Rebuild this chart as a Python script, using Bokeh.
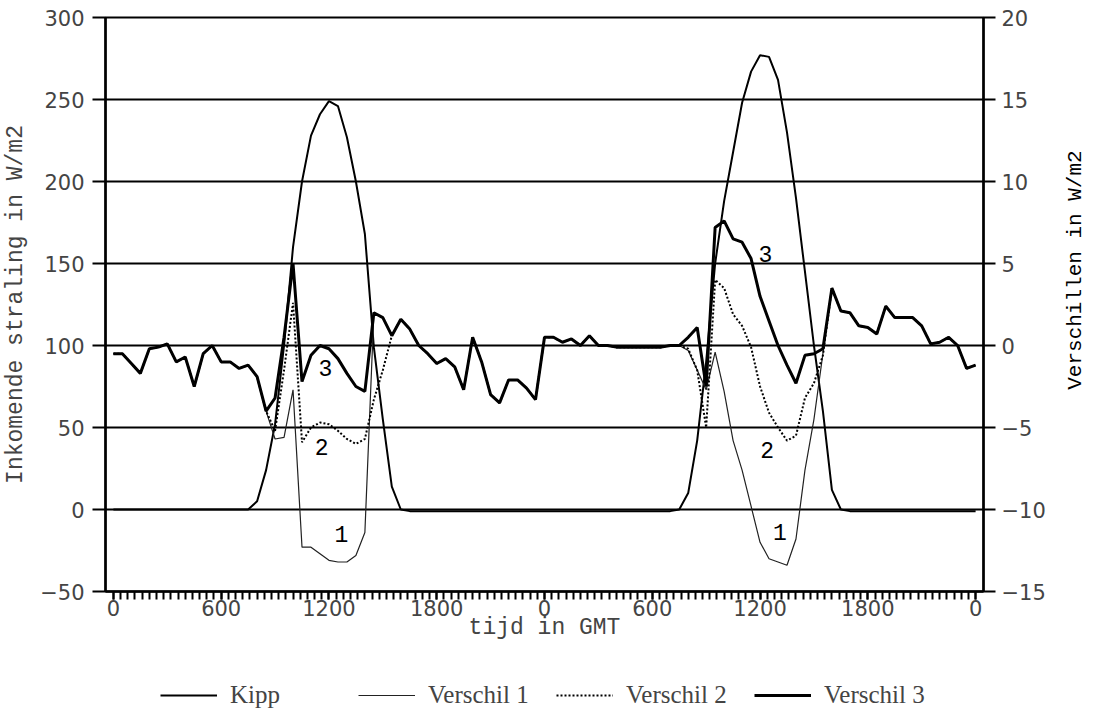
import math
from bokeh.plotting import figure
from bokeh.layouts import column, row
from bokeh.models import (Range1d, LinearAxis, FixedTicker, Legend, LegendItem,
                          Label, ColumnDataSource)
from bokeh.embed import file_html
from bokeh.resources import INLINE

# ---------------- data (half-hourly, hours since start) ----------------
hours = [i * 0.5 for i in range(97)]

kipp = [0, 0, 0, 0, 0, 0, 0, 0, 0, 0, 0, 0, 0, 0, 0, 0,          # 0.0 - 7.5
        5, 24, 52, 100, 160, 200, 228, 241, 249, 246, 227, 200,  # 8.0 - 13.5
        168, 99, 55, 14, 0,                                      # 14.0 - 16.0
        -1, -1, -1, -1, -1, -1, -1, -1, -1, -1, -1, -1, -1, -1,  # 16.5 - 23.0
        -1, -1, -1, -1, -1, -1, -1, -1, -1, -1, -1, -1, -1, -1,  # 23.5 - 30.0
        -1, -1, 0,                                               # 30.5 - 31.5
        10, 42, 90, 150, 188, 218, 248, 267, 277, 276, 262, 230,  # 32.0 - 37.5
        190, 145, 100, 60, 12, 0,                                # 38.0 - 40.5
        -1, -1, -1, -1, -1, -1, -1, -1, -1, -1, -1, -1, -1, -1, -1]  # 41.0 - 48.0

night_1 = [-0.5, -0.5, -1.1, -1.7, -0.2, -0.1, 0.1, -1.0, -0.7, -2.5,
           -0.5, 0.0, -1.0, -1.0, -1.4, -1.2, -1.9, -4.0]          # 0.0 - 8.5
night_2 = [0.6, 1.6, 1.0, 0.0, -0.5, -1.1, -0.8, -1.3, -2.7, 0.5,
           -1.0, -3.0, -3.5, -2.1, -2.1, -2.6, -3.3, 0.5, 0.5, 0.2,
           0.4, 0.0, 0.6, 0.0, 0.0, -0.1, -0.1, -0.1, -0.1, -0.1,
           -0.1, 0.0, 0.0]                                          # 15.5 - 31.5
night_3 = [3.5, 2.1, 2.0, 1.2, 1.1, 0.7, 2.4, 1.7, 1.7, 1.7,
           1.2, 0.1, 0.2, 0.5, 0.0, -1.4, -1.2]                      # 40.0 - 48.0

day1_v1 = [-5.7, -5.6, -2.7, -12.3, -12.3, -12.7, -13.1, -13.2, -13.2, -12.8, -11.4, 2.0, 1.7]
day1_v2 = [-5.2, -1.5, 2.6, -5.9, -5.0, -4.7, -4.8, -5.2, -5.7, -6.0, -5.7, -3.3, -1.5]
day1_v3 = [-3.2, 0.5, 5.0, -2.2, -0.6, 0.0, -0.2, -0.8, -1.7, -2.5, -2.8, 2.0, 1.7]  # 9.0 - 15.0

day2_v1 = [-0.3, -1.5, -2.7, -0.4, -2.8, -5.8, -7.6, -9.8, -12.0, -13.0, -13.2, -13.4, -11.8, -7.6, -4.5, -0.5]
day2_v2 = [-0.2, -1.5, -5.0, 4.0, 3.5, 1.9, 1.2, -0.1, -2.5, -4.1, -5.0, -5.8, -5.5, -3.2, -2.3, -0.6]
day2_v3 = [0.5, 1.1, -2.5, 7.2, 7.6, 6.5, 6.3, 5.3, 3.0, 1.5, 0.0, -1.2, -2.3, -0.6, -0.5, -0.2]  # 32.0 - 39.5

verschil_1 = night_1 + day1_v1 + night_2 + day2_v1 + night_3
verschil_2 = night_1 + day1_v2 + night_2 + day2_v2 + night_3
verschil_3 = night_1 + day1_v3 + night_2 + day2_v3 + night_3

x_tick_values = [0, 6, 12, 18, 24, 30, 36, 42, 48]
x_tick_labels = ["0", "600", "1200", "1800", "0", "600", "1200", "1800", "0"]
left_ticks = [-50, 0, 50, 100, 150, 200, 250, 300]
right_ticks = [-15, -10, -5, 0, 5, 10, 15, 20]

series_names = ["Kipp", "Verschil 1", "Verschil 2", "Verschil 3"]
left_title = "Inkomende straling in W/m2"
right_title = "Verschillen in W/m2"
x_title = "tijd in GMT"

curve_labels = ["3", "2", "1", "3", "2", "1"]
curve_label_x = [11.8, 11.6, 12.7, 36.3, 36.4, 37.1]
curve_label_y = [86, 38, -15, 156, 36, -14]

# ---------------- styles ----------------
SANS = "DejaVu Sans"
MONO = "Liberation Mono"
SERIF = "Liberation Serif"
styles = [dict(line_color="black", line_width=2),
          dict(line_color="#222222", line_width=1.2),
          dict(line_color="black", line_width=2, line_dash="2 2"),
          dict(line_color="black", line_width=3)]

MAIN_H = 655

# ---------------- main figure ----------------
p = figure(width=1064, height=MAIN_H, output_backend="svg", toolbar_location=None,
           x_range=Range1d(-0.44, 48.44), y_range=Range1d(-50, 300),
           min_border_left=103, min_border_right=81, min_border_top=17,
           min_border_bottom=64)
p.extra_y_ranges = {"diff": Range1d(-15, 20)}
p.outline_line_color = "black"
p.outline_line_width = 2
p.background_fill_color = "white"
p.border_fill_color = "white"

src = ColumnDataSource(dict(h=hours, kipp=kipp, v1=verschil_1, v2=verschil_2, v3=verschil_3))
p.line("h", "kipp", source=src, **styles[0])
p.line("h", "v1", source=src, y_range_name="diff", **styles[1])
p.line("h", "v2", source=src, y_range_name="diff", **styles[2])
p.line("h", "v3", source=src, y_range_name="diff", **styles[3])

# grid
p.xgrid.visible = False
p.ygrid.ticker = FixedTicker(ticks=[0, 50, 100, 150, 200, 250])
p.ygrid.grid_line_color = "black"
p.ygrid.grid_line_width = 2

# x axis
xa = p.xaxis[0]
xa.ticker = FixedTicker(ticks=x_tick_values, minor_ticks=[k * 0.4 for k in range(121)])
xa.major_label_overrides = {t: s for t, s in zip(x_tick_values, x_tick_labels)}
xa.axis_label = x_title
xa.axis_label_text_font = MONO
xa.axis_label_text_font_style = "normal"
xa.axis_label_text_font_size = "23px"
xa.axis_label_standoff = -4
xa.major_label_text_font = SANS
xa.major_label_text_font_size = "21px"
xa.major_label_standoff = 0
xa.major_tick_out = 8
xa.major_tick_in = 0
xa.minor_tick_out = 8
xa.minor_tick_in = 0
xa.major_tick_line_width = 2
xa.minor_tick_line_width = 2
xa.axis_line_width = 2.5

# left axis
ya = p.yaxis[0]
ya.ticker = FixedTicker(ticks=left_ticks)
ya.axis_label = left_title
ya.axis_label_text_font = MONO
ya.axis_label_text_font_style = "normal"
ya.axis_label_text_font_size = "23px"
ya.axis_label_standoff = 8
ya.major_label_text_font = SANS
ya.major_label_text_font_size = "21px"
ya.major_label_standoff = 8
ya.major_tick_out = 13
ya.major_tick_in = 0
ya.minor_tick_out = 0
ya.minor_tick_in = 0
ya.major_tick_line_width = 2
ya.axis_line_width = 2.5

# right axis (its title is drawn in the narrow strip to the right)
ra = LinearAxis(y_range_name="diff", ticker=FixedTicker(ticks=right_ticks))
ra.major_label_text_font = SANS
ra.major_label_text_font_size = "21px"
ra.major_label_standoff = 6
ra.major_tick_out = 12
ra.major_tick_in = 0
ra.minor_tick_out = 0
ra.minor_tick_in = 0
ra.major_tick_line_width = 2
ra.axis_line_width = 2.5
p.add_layout(ra, "right")

# curve labels
for t, lx, ly in zip(curve_labels, curve_label_x, curve_label_y):
    p.add_layout(Label(x=lx, y=ly, text=t, text_font=MONO, text_font_size="23px",
                       text_align="center", text_baseline="middle", text_color="black"))

# ---------------- right title strip ----------------
rt = figure(width=22, height=MAIN_H, output_backend="svg", toolbar_location=None,
            x_range=Range1d(0, 1), y_range=Range1d(0, 1),
            x_axis_location=None, y_axis_location=None,
            min_border=0, outline_line_color=None)
rt.grid.visible = False
rt.add_layout(Label(x=0.5, y=0.56, text=right_title, angle=math.pi / 2,
                    text_font=MONO, text_font_size="21px", text_align="center",
                    text_baseline="middle", text_color="black"))

# ---------------- legend strip ----------------
leg = figure(width=1086, height=54, output_backend="svg", toolbar_location=None,
             x_range=Range1d(0, 1), y_range=Range1d(0, 1),
             x_axis_location=None, y_axis_location=None,
             min_border=0, min_border_left=103, min_border_right=103,
             outline_line_color=None)
leg.grid.visible = False
# sample renderers only feed the legend glyphs; their points lie outside the view
dummy = ColumnDataSource(dict(x=[-5, -4], y=[-5, -4]))
items = []
for name, st in zip(series_names, styles):
    r = leg.line("x", "y", source=dummy, **st)
    items.append(LegendItem(label=name, renderers=[r]))
legend = Legend(items=items, orientation="horizontal", location=(57, 0),
                border_line_alpha=0, background_fill_alpha=0,
                glyph_width=57, glyph_height=20, label_standoff=13, label_width=120,
                spacing=8, padding=0, margin=0,
                label_text_font=SERIF, label_text_font_size="25px")
leg.add_layout(legend, "center")

layout = column(row(p, rt, spacing=0), leg, spacing=0)
open("out.html", "w").write(file_html(layout, INLINE))
